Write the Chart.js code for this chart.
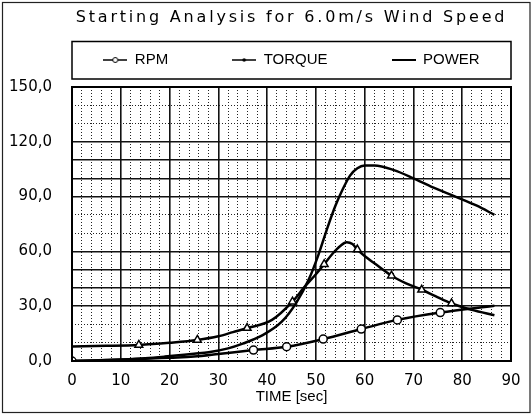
<!DOCTYPE html>
<html>
<head>
<title>Starting Analysis for 6.0m/s Wind Speed</title>
<script src="https://cdn.jsdelivr.net/npm/chart.js@4.4.0/dist/chart.umd.min.js"></script>
<style>
  body {margin: 0; background: #fff;}
  canvas {display: block;}
</style>
</head>
<body>
<canvas id="myChart" width="532" height="414"></canvas>
<script>
// values, time in sec
var rpmTime  = [0, 7, 14, 20, 25, 30, 37.2, 44, 51.5, 59.3, 66.7, 75.5, 86.6];
var rpmValue = [0, 0.5, 1.1, 1.8, 2.4, 3.8, 6, 7.8, 12, 17.5, 22.5, 26.5, 30.2];
var rpmMarks = [0, 37.2, 44, 51.5, 59.3, 66.7, 75.5];

var torqueTime  = [0, 7, 13.7, 20, 25.7, 30, 33, 35.9, 41, 45.2, 47.5, 50, 51.7, 53.5, 55, 56.3, 57.5, 58.5, 60, 62, 65.5, 68.5, 71.7, 74.5, 77.8, 82, 86.6];
var torqueValue = [8, 8.3, 8.8, 10, 11.5, 13.5, 15.8, 18, 22.5, 32.5, 40, 47.5, 53, 59, 63, 65, 64, 61, 57.5, 53.5, 46.7, 42.5, 39, 35.5, 31.5, 28, 25];
var torqueMarks = [13.7, 25.7, 35.9, 45.2, 51.7, 58.5, 65.5, 71.7, 77.8];

var powerTime  = [0, 5, 10, 15, 19, 25, 28, 32, 35, 39, 43, 46, 48.6, 50.5, 52.5, 54, 55.5, 57, 58.5, 60, 62, 66, 70, 74, 78.6, 83, 86.6];
var powerValue = [0, 0.3, 0.8, 1.5, 2.4, 4, 4.8, 6.9, 9.5, 14, 21.5, 32, 45, 58, 74, 85, 94, 101.5, 105.5, 107, 107, 104.5, 100, 95, 90, 85, 80];

var seriesNames = ['RPM', 'TORQUE', 'POWER'];
var dottedY = [10, 20, 70, 80, 130, 140];

function points(t, v) {
	return t.map(function (x, i) { return {x: x, y: v[i]}; });
}

function marker(list, r) {
	return function (c) {
		return (c.raw && list.indexOf(c.raw.x) >= 0) ? r : 0;
	};
}

// little line samples for the legend
function sample(kind) {
	var cv = document.createElement('canvas');
	cv.width = 24; cv.height = 10;
	var g = cv.getContext('2d');
	g.strokeStyle = '#000';
	g.lineWidth = kind == 2 ? 2 : 1.5;
	g.beginPath(); g.moveTo(0, 5); g.lineTo(24, 5); g.stroke();
	if (kind == 0) {
		g.fillStyle = '#fff'; g.lineWidth = 1;
		g.beginPath(); g.arc(12, 5, 2.5, 0, Math.PI * 2); g.fill(); g.stroke();
	} else if (kind == 1) {
		g.fillStyle = '#000';
		g.beginPath(); g.arc(12, 5, 1.8, 0, Math.PI * 2); g.fill();
	}
	return cv;
}
var samples = [sample(0), sample(1), sample(2)];
var gaps = ['\u2003\u2003\u2003\u2003', '\u2003\u2003\u2003\u2003', ''];

var framePlugin = {
	id: 'frame',
	beforeDraw: function (chart) {
		var ctx = chart.ctx;
		ctx.save();
		ctx.fillStyle = '#fff';
		ctx.fillRect(0, 0, chart.width, chart.height);
		ctx.strokeStyle = '#222';
		ctx.lineWidth = 1.2;
		ctx.strokeRect(2.5, 2.5, chart.width - 4.5, chart.height - 4);
		ctx.restore();
	},
	afterDraw: function (chart) {
		var ctx = chart.ctx, a = chart.chartArea, lg = chart.legend;
		ctx.save();
		ctx.strokeStyle = '#000';
		ctx.lineWidth = 2;
		ctx.strokeRect(a.left, a.top, a.right - a.left, a.bottom - a.top);
		var mid = lg.top + lg.options.labels.padding + lg.options.labels.font.size / 2;
		ctx.lineWidth = 1.5;
		ctx.strokeRect(a.left, mid - 18.5, a.right - a.left, 37.5);
		ctx.restore();
	}
};

var ctx = document.getElementById('myChart').getContext('2d');
var chart = new Chart(ctx, {
	type: 'line',
	data: {
		datasets: [{
			label: seriesNames[0],
			data: points(rpmTime, rpmValue),
			borderColor: '#000',
			borderWidth: 2.5,
			pointStyle: 'circle',
			pointRadius: marker(rpmMarks, 4),
			pointBorderWidth: 1.5,
			pointBorderColor: '#000',
			pointBackgroundColor: '#fff',
			cubicInterpolationMode: 'monotone'
		}, {
			label: seriesNames[1],
			data: points(torqueTime, torqueValue),
			borderColor: '#000',
			borderWidth: 2.5,
			pointStyle: 'triangle',
			pointRadius: marker(torqueMarks, 4.5),
			pointBorderWidth: 1.5,
			pointBorderColor: '#000',
			pointBackgroundColor: '#fff',
			cubicInterpolationMode: 'monotone'
		}, {
			label: seriesNames[2],
			data: points(powerTime, powerValue),
			borderColor: '#000',
			borderWidth: 2.5,
			pointRadius: 0,
			cubicInterpolationMode: 'monotone'
		}]
	},
	options: {
		responsive: false,
		animation: false,
		events: [],
		layout: {padding: {left: 4, right: 21, top: 4, bottom: 5}},
		plugins: {
			title: {
				display: true,
				fullSize: false,
				text: 'Starting Analysis for 6.0m/s Wind Speed',
				color: '#000',
				font: {family: 'DejaVu Sans', size: 16, weight: 'normal'},
				padding: {top: 4.4, bottom: 20.9}
			},
			legend: {
				display: true,
				fullSize: false,
				labels: {
					usePointStyle: true,
					pointStyleWidth: 24,
					padding: 4,
					color: '#000',
					font: {family: 'Liberation Sans', size: 15},
					generateLabels: function (chart) {
						return seriesNames.map(function (n, i) {
							return {text: n + gaps[i], pointStyle: samples[i], datasetIndex: i,
								fontColor: '#000', strokeStyle: '#000', fillStyle: '#000', lineWidth: 0};
						});
					}
				}
			},
			tooltip: {enabled: false}
		},
		scales: {
			x: {
				type: 'linear',
				min: 0,
				max: 90,
				afterFit: function (s) { s.height = 48; },
				ticks: {
					stepSize: 2,
					autoSkip: false,
					maxRotation: 0,
					padding: 11,
					color: '#000',
					font: {family: 'DejaVu Sans', size: 15},
					callback: function (v) { return Math.round(v) % 10 === 0 ? String(Math.round(v)) : ''; }
				},
				grid: {
					drawTicks: false,
					color: function (c) { return c.tick && Math.round(c.tick.value) % 10 === 0 ? '#111' : '#222'; },
					lineWidth: function (c) { return c.tick && Math.round(c.tick.value) % 10 === 0 ? 1.6 : 1; }
				},
				border: {
					display: false,
					dash: function (c) { return c.tick && Math.round(c.tick.value) % 10 !== 0 ? [1, 2] : []; }
				},
				title: {
					display: true,
					text: 'TIME [sec]',
					color: '#000',
					font: {family: 'Liberation Sans', size: 15},
					padding: {top: 0, bottom: 3}
				}
			},
			x2: {
				type: 'linear',
				position: 'top',
				afterFit: function (s) { s.height = 9.5; },
				grid: {display: false},
				border: {display: false},
				ticks: {display: false}
			},
			y: {
				min: 0,
				max: 150,
				afterFit: function (s) { s.width = 68; },
				ticks: {
					stepSize: 10,
					autoSkip: false,
					padding: 20,
					color: '#000',
					font: {family: 'DejaVu Sans', size: 15},
					callback: function (v) { return v % 30 === 0 ? v.toFixed(1).replace('.', ',') : ''; }
				},
				grid: {
					drawTicks: false,
					color: function (c) { return c.tick && dottedY.indexOf(c.tick.value) >= 0 ? '#222' : '#111'; },
					lineWidth: function (c) { return c.tick && dottedY.indexOf(c.tick.value) >= 0 ? 1 : 1.6; }
				},
				border: {
					display: false,
					dash: function (c) { return c.tick && dottedY.indexOf(c.tick.value) >= 0 ? [1, 2] : []; }
				}
			}
		}
	},
	plugins: [framePlugin]
});

// the scanned title is letter-spaced
var titleBox = chart.titleBlock;
var drawTitle = titleBox.draw.bind(titleBox);
titleBox.draw = function () {
	chart.ctx.save();
	chart.ctx.letterSpacing = '2.8px';
	drawTitle();
	chart.ctx.restore();
};
chart.draw();
</script>
</body>
</html>
